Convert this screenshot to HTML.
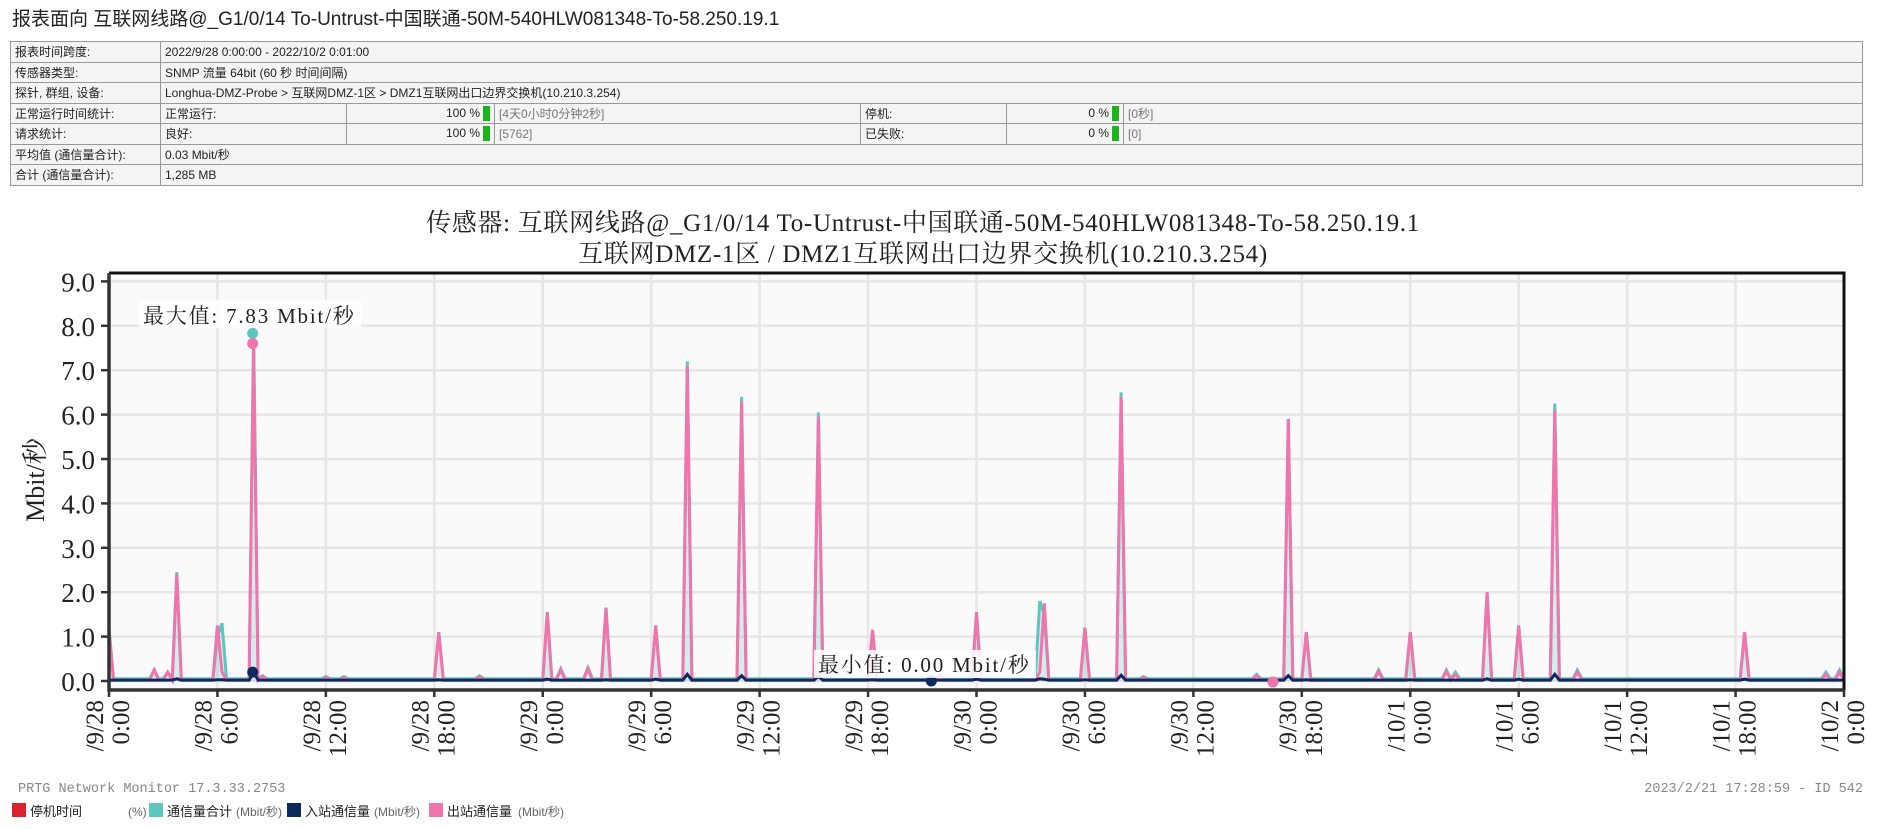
<!DOCTYPE html>
<html><head><meta charset="utf-8">
<style>
body{margin:0;width:1879px;height:829px;background:#fff;overflow:hidden;font-family:"Liberation Sans","Noto Sans CJK SC",sans-serif;}
h1{position:absolute;left:12px;top:4px;margin:0;font-weight:normal;font-size:19px;color:#222;}
table{position:absolute;left:10px;top:41px;width:1853px;border-collapse:collapse;font-size:12px;color:#222;table-layout:fixed;}
td{border:1px solid #999;height:19.5px;padding:0 4px;white-space:nowrap;overflow:hidden;background:#f4f4f4;}
.r{text-align:right}
.g{color:#777}
.bar{display:inline-block;width:7px;height:15px;background:#1db31d;vertical-align:middle;margin-left:3px}
svg{position:absolute;left:0;top:0}
</style></head><body>
<h1>报表面向 互联网线路@_G1/0/14 To-Untrust-中国联通-50M-540HLW081348-To-58.250.19.1</h1>
<table>
<colgroup><col style="width:150px"><col style="width:186px"><col style="width:148px"><col style="width:366px"><col style="width:146px"><col style="width:117px"><col></colgroup>
<tr><td>报表时间跨度:</td><td colspan="6">2022/9/28 0:00:00 - 2022/10/2 0:01:00</td></tr>
<tr><td>传感器类型:</td><td colspan="6">SNMP 流量 64bit (60 秒 时间间隔)</td></tr>
<tr><td>探针, 群组, 设备:</td><td colspan="6">Longhua-DMZ-Probe &gt; 互联网DMZ-1区 &gt; DMZ1互联网出口边界交换机(10.210.3.254)</td></tr>
<tr><td>正常运行时间统计:</td><td>正常运行:</td><td class="r">100 %<span class="bar"></span></td><td class="g">[4天0小时0分钟2秒]</td><td>停机:</td><td class="r">0 %<span class="bar"></span></td><td class="g">[0秒]</td></tr>
<tr><td>请求统计:</td><td>良好:</td><td class="r">100 %<span class="bar"></span></td><td class="g">[5762]</td><td>已失败:</td><td class="r">0 %<span class="bar"></span></td><td class="g">[0]</td></tr>
<tr><td>平均值 (通信量合计):</td><td colspan="6">0.03 Mbit/秒</td></tr>
<tr><td>合计 (通信量合计):</td><td colspan="6">1,285 MB</td></tr>
</table>
<svg id="chart" width="1879" height="829"></svg>
<script>
const yTicks=[0,1,2,3,4,5,6,7,8,9];
const xTickHours=[0,6,12,18,24,30,36,42,48,54,60,66,72,78,84,90,96];
const xTickDates=["/9/28","/9/28","/9/28","/9/28","/9/29","/9/29","/9/29","/9/29","/9/30","/9/30","/9/30","/9/30","/10/1","/10/1","/10/1","/10/1","/10/2"];
const xTickTimes=["0:00","6:00","12:00","18:00","0:00","6:00","12:00","18:00","0:00","6:00","12:00","18:00","0:00","6:00","12:00","18:00","0:00"];
const spikeHours=[0,3.75,6.0,6.25,7.95,18.3,24.2,27.5,30.3,32,35,39.2,42.3,48.1,51.6,51.8,54.1,56,65.2,66.3,72.1,76.3,78.1,80.1,90.4,8.5,12,12.9,20.6,25.1,26.6,46,57.2,63.5,70.2,74.1,74.6,81.3,95,95.8,2.5,3.2];
const spikeTotal=[1.2,2.45,1.0,1.3,7.83,1.1,1.55,1.65,1.25,7.2,6.4,6.05,1.15,1.55,1.8,1.5,1.2,6.5,5.9,1.1,1.1,2.0,1.25,6.25,1.1,0.12,0.1,0.1,0.12,0.28,0.3,0.15,0.1,0.15,0.25,0.25,0.2,0.25,0.2,0.25,0.25,0.2];
const spikeOut=[1.15,2.4,1.25,0.2,7.6,1.1,1.55,1.65,1.25,7.1,6.3,5.95,1.15,1.55,0.2,1.75,1.2,6.4,5.9,1.1,1.1,2.0,1.25,6.1,1.1,0.1,0.08,0.08,0.1,0.25,0.28,0.12,0.08,0.12,0.22,0.22,0.15,0.2,0.15,0.2,0.25,0.2];
const spikeIn=[0.02,0.05,0.03,0.03,0.2,0.03,0.04,0.03,0.04,0.15,0.12,0.1,0.03,0.04,0.05,0.04,0.03,0.13,0.12,0.03,0.03,0.05,0.04,0.15,0.04,0,0,0,0,0,0,0,0,0,0,0,0,0,0,0,0,0];
const baseline=0.02;
const maxLabel="最大值: 7.83 Mbit/秒", minLabel="最小值: 0.00 Mbit/秒";
const minHour=45.5, minPinkHour=64.4;

const NS="http://www.w3.org/2000/svg";
const svg=document.getElementById('chart');
const L=109,R=1844,T=273,B=690,Y0=681,YU=44.4;
const xs=h=>L+(R-L)*h/96, ys=v=>Y0-v*YU;
function mk(tag,a,p){const e=document.createElementNS(NS,tag);for(const k in a)e.setAttribute(k,a[k]);(p||svg).appendChild(e);return e;}
const SERIF='"Liberation Serif","Noto Serif CJK SC",serif';
let bg=mk('rect',{x:L,y:T,width:R-L,height:B-T,fill:'#fafafa'});

yTicks.forEach(v=>{
 let g=mk('line',{x1:L,x2:R,y1:ys(v),y2:ys(v),stroke:'#e6e6e6','stroke-width':2.5});
 
 mk('line',{x1:L-8,x2:L,y1:ys(v),y2:ys(v),stroke:'#333','stroke-width':2.5});
 let t=mk('text',{x:L-14,y:ys(v)+10,'text-anchor':'end','font-size':27,'font-family':SERIF,fill:'#222'});
 t.textContent=v.toFixed(1);
});
xTickHours.forEach((h,i)=>{
 let g=mk('line',{x1:xs(h),x2:xs(h),y1:T,y2:B,stroke:'#e6e6e6','stroke-width':2.5});
 
 mk('line',{x1:xs(h),x2:xs(h),y1:B,y2:B+7,stroke:'#333','stroke-width':2.5});
 let t=mk('text',{transform:`translate(${xs(h)},700) rotate(-90)`,'text-anchor':'end','font-size':25,'font-family':SERIF,fill:'#222'});
 let a=mk('tspan',{x:0,y:-6},t);a.textContent=xTickDates[i];
 let b=mk('tspan',{x:0,y:20},t);b.textContent=xTickTimes[i];
 
});
function series(vals,def){const N=384,arr=new Array(N+1).fill(def);spikeHours.forEach((h,i)=>{const k=Math.round(h*4);if(vals[i]>arr[k])arr[k]=vals[i];});return arr;}
const tot=series(spikeTotal,baseline+0.03),out=series(spikeOut,baseline),inn=series(spikeIn,baseline);
const pts=a=>a.map((v,k)=>`${xs(k/4).toFixed(1)},${ys(v).toFixed(1)}`).join(' ');
let area=mk('polygon',{points:`${xs(0)},${ys(0)} `+pts(tot)+` ${xs(96)},${ys(0)}`,fill:'#5cc7be','fill-opacity':0.25,stroke:'none'});

let lt=mk('polyline',{points:pts(tot),fill:'none',stroke:'#5cc7be','stroke-width':3});

let lo=mk('polyline',{points:pts(out),fill:'none',stroke:'#f174ac','stroke-width':3});

let li=mk('polyline',{points:pts(inn),fill:'none',stroke:'#0c2a5e','stroke-width':3});

const mh=spikeHours[spikeTotal.indexOf(Math.max(...spikeTotal))];
let d1=mk('circle',{cx:xs(mh),cy:ys(Math.max(...spikeTotal)),r:5.5,fill:'#5cc7be'});
let d2=mk('circle',{cx:xs(mh),cy:ys(Math.max(...spikeOut)),r:5.5,fill:'#f174ac'});
let d3=mk('circle',{cx:xs(mh),cy:ys(Math.max(...spikeIn)),r:5.5,fill:'#0c2a5e'});
let d4=mk('circle',{cx:xs(minHour),cy:ys(0),r:5.5,fill:'#0c2a5e'});
let d5=mk('circle',{cx:xs(minPinkHour),cy:ys(0)+1,r:5.5,fill:'#f174ac'});
mk('rect',{x:139,y:300,width:222,height:28,fill:'#fff','fill-opacity':0.85});
let ml=mk('text',{x:143,y:323,'font-size':21,'font-family':SERIF,fill:'#222','letter-spacing':1.8});ml.textContent=maxLabel;
mk('rect',{x:814,y:650,width:222,height:28,fill:'#fff','fill-opacity':0.85});
let nl=mk('text',{x:818,y:672,'font-size':21,'font-family':SERIF,fill:'#222','letter-spacing':1.8});nl.textContent=minLabel;
mk('polyline',{points:`${L},${T} ${R},${T} ${R},${B}`,fill:'none',stroke:'#111','stroke-width':3});
mk('polyline',{points:`${L},${T} ${L},${B} ${R},${B}`,fill:'none',stroke:'#333','stroke-width':3.5});
let t1=mk('text',{x:923,y:231,'text-anchor':'middle','font-size':25,'font-family':SERIF,fill:'#222','letter-spacing':0.7});t1.textContent='传感器: 互联网线路@_G1/0/14 To-Untrust-中国联通-50M-540HLW081348-To-58.250.19.1';
let t2=mk('text',{x:923,y:262,'text-anchor':'middle','font-size':25,'font-family':SERIF,fill:'#222','letter-spacing':0.7});t2.textContent='互联网DMZ-1区 / DMZ1互联网出口边界交换机(10.210.3.254)';
let yt=mk('text',{transform:'translate(44,480) rotate(-90)','text-anchor':'middle','font-size':26,'font-family':SERIF,fill:'#222'});yt.textContent='Mbit/秒';
let f1=mk('text',{x:18,y:792,'font-size':13.5,'font-family':'"Liberation Mono",monospace',fill:'#888'});f1.textContent='PRTG Network Monitor 17.3.33.2753';
let f2=mk('text',{x:1863,y:792,'text-anchor':'end','font-size':13.5,'font-family':'"Liberation Mono",monospace',fill:'#888'});f2.textContent='2023/2/21 17:28:59 - ID 542';
const legendNames=['停机时间','通信量合计','入站通信量','出站通信量'];
const legendUnits=['(%)','(Mbit/秒)','(Mbit/秒)','(Mbit/秒)'];
const legendColors=['#d9232d','#5cc7be','#0c2a5e','#f174ac'];
const legendX=[12,149,287,429];
const unitX=[128,236,374,518];
legendNames.forEach((n,i)=>{
 const g=mk('g',{});
 mk('rect',{x:legendX[i],y:803,width:14,height:14,fill:legendColors[i]},g);
 const t=mk('text',{x:legendX[i]+18,y:816,'font-size':13,fill:'#222','font-family':'"Liberation Sans","Noto Sans CJK SC",sans-serif'},g);t.textContent=n;
 const u=mk('text',{x:unitX[i],y:816,'font-size':12,fill:'#666','font-family':'"Liberation Sans","Noto Sans CJK SC",sans-serif'},g);u.textContent=legendUnits[i];
});
</script>
</body></html>
